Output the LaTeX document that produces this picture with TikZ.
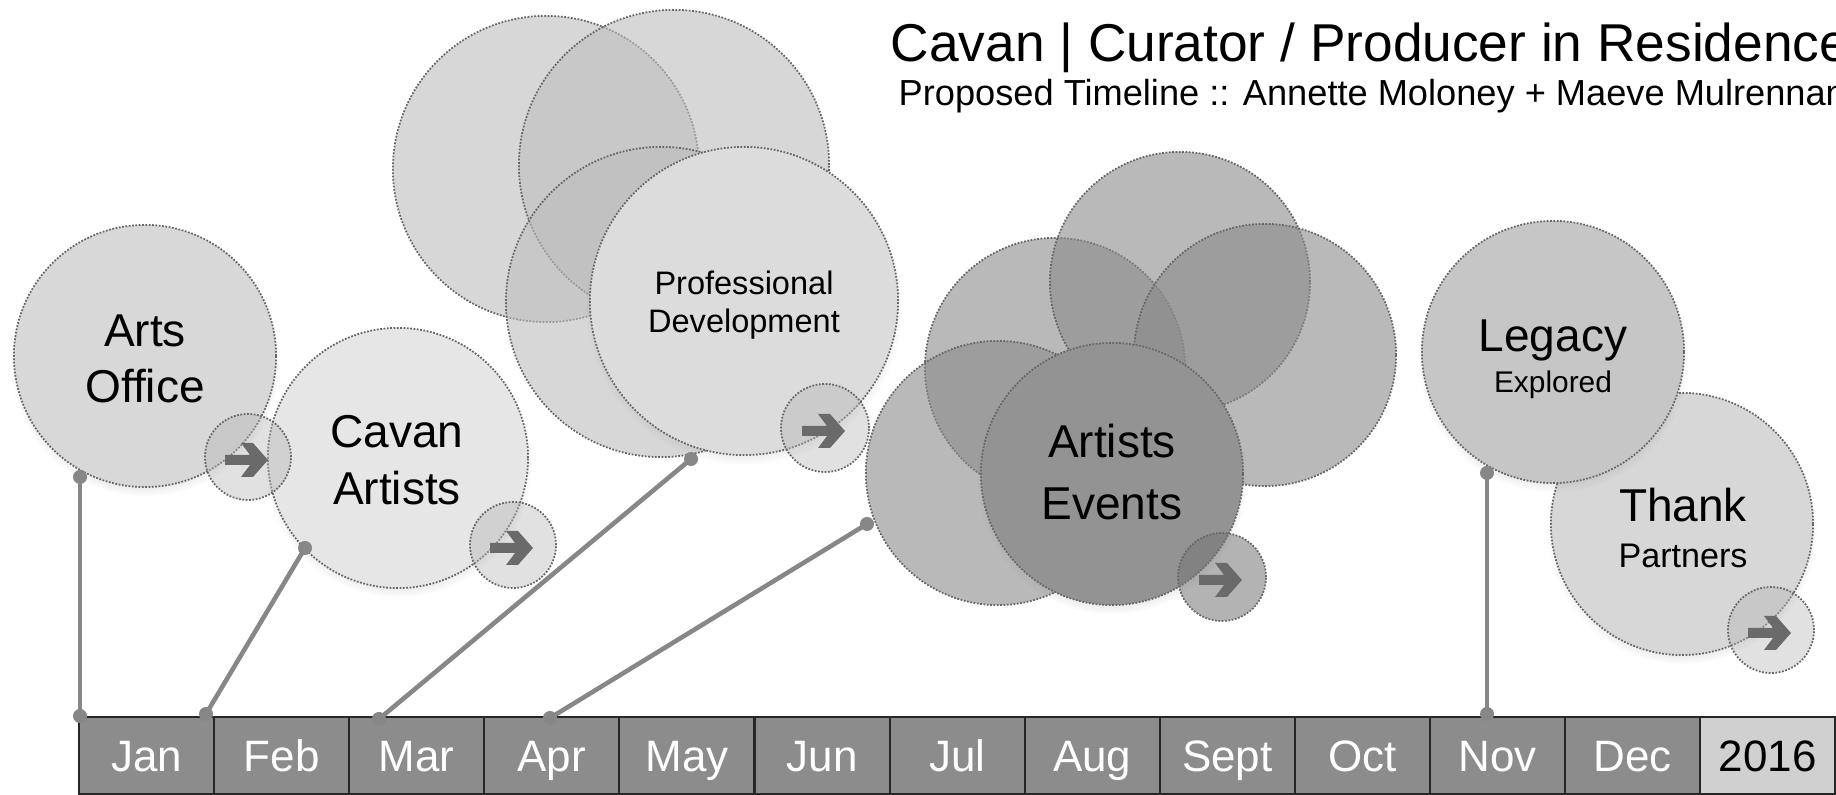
\documentclass[tikz,border=0pt]{standalone}
\usepackage{fontspec}
\setmainfont{Liberation Sans}
\usetikzlibrary{shadows}
\definecolor{dotc}{HTML}{666666}
\definecolor{arrowc}{HTML}{6A6A6A}
\definecolor{connc}{HTML}{878787}
\definecolor{aoc}{HTML}{D8D8D8}
\definecolor{cac}{HTML}{E6E6E6}
\definecolor{pdsemi}{HTML}{BDBDBD}
\definecolor{pdmain}{HTML}{DCDCDC}
\definecolor{aesemi}{HTML}{8A8A8A}
\definecolor{aemain}{HTML}{939393}
\definecolor{legc}{HTML}{C6C6C6}
\definecolor{thc}{HTML}{D7D7D7}
\definecolor{arrfill}{HTML}{B3B3B3}
\definecolor{arrfilldk}{HTML}{757575}
\definecolor{monthc}{HTML}{8C8C8C}
\definecolor{yearc}{HTML}{D0D0D0}
\newcommand\myfs[2]{\fontsize{#1}{#2}\selectfont}
\newcommand\arrowglyph[1]{%
  \fill[arrowc, shift={(#1.center)}] (-23,-2) -- (2,-2) -- (-7,-14) -- (5,-14) -- (20,3)
    -- (5,20) -- (-7,20) -- (2,8) -- (-23,8) -- cycle;}
\begin{document}
\begin{tikzpicture}[x=0.01cm,y=-0.01cm,
  bub/.style={circle, inner sep=0pt, draw=dotc, line width=0.5pt,
              dash pattern=on 0.5pt off 0.45pt, minimum size=#1*0.02cm},
  semi/.style={fill opacity=#1},
  shad/.style={circular drop shadow={shadow xshift=0pt, shadow yshift=-1.5pt,
              shadow scale=1.03, opacity=0.3}},
  lbl/.style={inner sep=0pt, anchor=base, font=\myfs{13.1pt}{15pt}},
  lblmid/.style={inner sep=0pt, anchor=base, font=\myfs{9.25pt}{11pt}},
  lblsm/.style={inner sep=0pt, anchor=base, font=\myfs{#1}{11pt}},
  cellbox/.style={rectangle, draw=black!85, line width=0.6pt, inner sep=0pt,
              minimum width=1.351cm, minimum height=0.77cm,
              text height=0.31cm, text depth=0pt, font=\myfs{12.5pt}{14pt}},
  conn/.style={draw=connc, line width=1.3pt},
  dotn/.style={circle, fill=connc, inner sep=0pt, minimum size=0.14cm},
]
\useasboundingbox (0,0) rectangle (1836,795);
\clip (0,0) rectangle (1836,795);

% ---------- title ----------
\node[inner sep=0pt, anchor=base west, font=\myfs{15.15pt}{18pt}] (title) at (890,62)
  {Cavan | Curator / Producer in Residence};
\node[inner sep=0pt, anchor=base west, font=\myfs{10.3pt}{12pt}] (subtitle) at (898,106)
  {Proposed Timeline :: Annette Moloney + Maeve Mulrennan};

% ---------- Arts Office / Cavan Artists ----------
\node[bub=131, fill=aoc, shad] (ao) at (145,356) {};
\node[bub=130, fill=cac, shad] (ca) at (398,458) {};
\node[bub=43, fill=arrfill, semi=0.4] (ar1) at (248,457) {};
\arrowglyph{ar1}
\node[bub=43, fill=arrfill, semi=0.4] (ar2) at (513,545) {};
\arrowglyph{ar2}
\node[lbl] (tao1) at (145,347) {Arts};
\node[lbl] (tao2) at (145,403) {Office};
\node[lbl] (tca1) at (397,448) {Cavan};
\node[lbl] (tca2) at (397,505) {Artists};

% ---------- Professional Development ----------
\node[bub=153, fill=pdsemi, semi=0.6] (pdA) at (546,169) {};
\node[bub=155, fill=pdsemi, semi=0.6] (pdB) at (674,165) {};
\node[bub=155, fill=pdsemi, semi=0.6] (pdC) at (661,302) {};
\node[bub=154, fill=pdmain, shad] (pd) at (744,301) {};
\node[bub=44, fill=arrfill, semi=0.4] (ar3) at (825,428) {};
\arrowglyph{ar3}
\node[lblmid] (tpd1) at (744,295) {Professional};
\node[lblmid] (tpd2) at (744,333) {Development};

% ---------- Artists Events ----------
\node[bub=130, fill=aesemi, semi=0.6] (aeE) at (1055,368) {};
\node[bub=130, fill=aesemi, semi=0.6] (aeF) at (1180,282) {};
\node[bub=131, fill=aesemi, semi=0.6] (aeG) at (1265,355) {};
\node[bub=132, fill=aesemi, semi=0.6] (aeH) at (998,473) {};
\node[bub=131, fill=aemain, shad] (ae) at (1112,474) {};
\node[bub=44, fill=arrfilldk, semi=0.55] (ar4) at (1222,577) {};
\arrowglyph{ar4}
\node[lbl] (tae1) at (1112,458) {Artists};
\node[lbl] (tae2) at (1112,520) {Events};

% ---------- Legacy / Thank ----------
\node[bub=131, fill=thc, shad] (th) at (1682,524) {};
\node[bub=131, fill=legc, shad] (lg) at (1553,352) {};
\node[bub=43, fill=arrfill, semi=0.4] (ar5) at (1771,630) {};
\arrowglyph{ar5}
\node[lbl] (tlg1) at (1553,352) {Legacy};
\node[lblsm=8.5pt] (tlg2) at (1553,393) {Explored};
\node[lbl] (tth1) at (1683,522) {Thank};
\node[lblsm=9.7pt] (tth2) at (1683,568) {Partners};

% ---------- month bar ----------
\foreach \m [count=\i from 0] in {Jan,Feb,Mar,Apr,May,Jun,Jul,Aug,Sept,Oct,Nov,Dec}
  \node[cellbox, fill=monthc, text=white] (m\i) at ({79+135.1*\i+67.55},755.5) {\m};
\node[cellbox, fill=yearc, text=black] (m12) at ({79+135.1*12+67.55},755.5) {2016};

% ---------- connectors ----------
\node[dotn] (janT) at (80,477) {};
\node[dotn] (janB) at (80,716) {};
\node[dotn] (febT) at (305,548) {};
\node[dotn] (febB) at (206,714) {};
\node[dotn] (marT) at (691,459) {};
\node[dotn] (marB) at (379,719) {};
\node[dotn] (aprT) at (867,524) {};
\node[dotn] (aprB) at (550,718) {};
\node[dotn] (novT) at (1487,473) {};
\node[dotn] (novB) at (1487,714) {};
\draw[conn] (janT.center) -- (janB.center);
\draw[conn] (febT.center) -- (febB.center);
\draw[conn] (marT.center) -- (marB.center);
\draw[conn] (aprT.center) -- (aprB.center);
\draw[conn] (novT.center) -- (novB.center);
\end{tikzpicture}
\end{document}
